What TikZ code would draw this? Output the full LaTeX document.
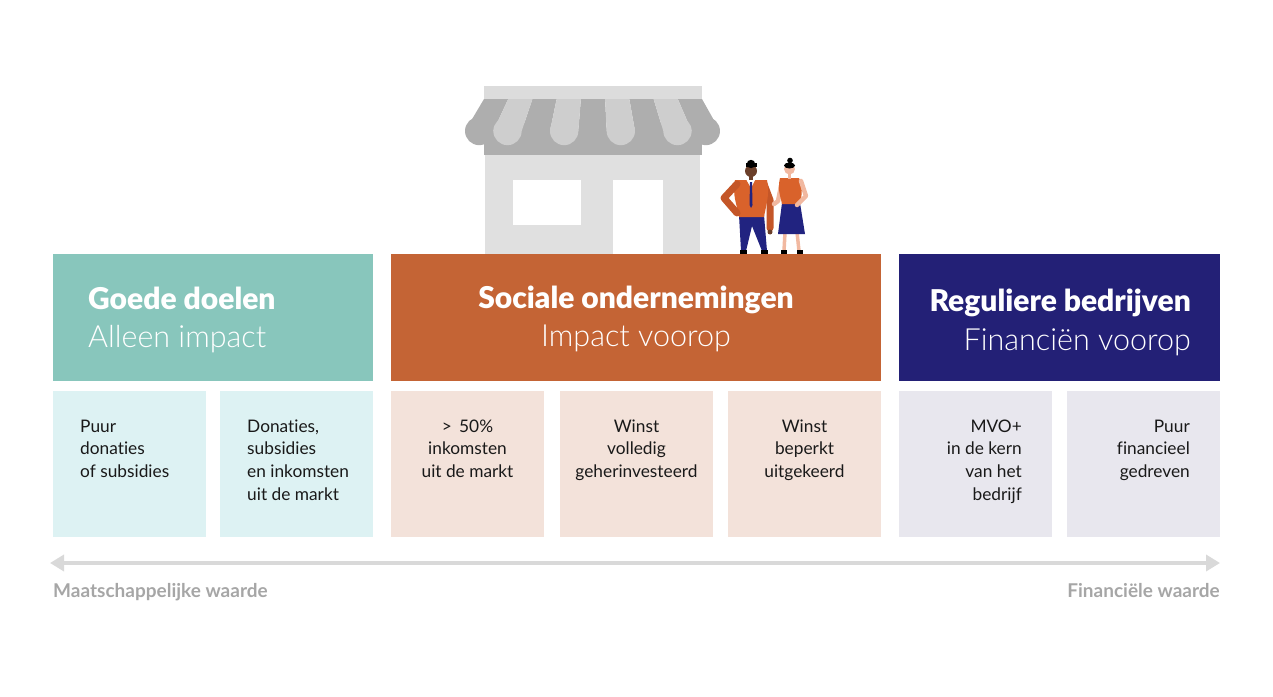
\documentclass[tikz,border=0pt]{standalone}
\usepackage{fontspec}
\setmainfont{Lato}[Ligatures={NoCommon}]
\newfontfamily\lightfont{Lato Light}[Ligatures={NoCommon}]
\newfontfamily\blackfont{Lato Black}[Ligatures={NoCommon}]
\usepackage{tikz}
\usetikzlibrary{arrows.meta}
\usetikzlibrary{positioning}
\definecolor{goedeteal}{RGB}{136, 198, 188}
\definecolor{goedelight}{RGB}{221, 242, 243}
\definecolor{socialorange}{RGB}{196, 100, 53}
\definecolor{sociallight}{RGB}{243, 226, 218}
\definecolor{regulnavy}{RGB}{35, 32, 118}
\definecolor{regullight}{RGB}{232, 231, 238}
\definecolor{arrowgray}{RGB}{217, 217, 217}
\definecolor{labelgray}{RGB}{166, 166, 166}
\definecolor{shoptop}{RGB}{220, 220, 220}
\definecolor{shopbody}{RGB}{224, 224, 224}
\definecolor{awningdark}{RGB}{174, 174, 174}
\definecolor{awninglight}{RGB}{206, 206, 206}
\definecolor{manorange}{RGB}{217, 98, 43}
\definecolor{manorangedark}{RGB}{196, 86, 40}
\definecolor{mannavy}{RGB}{33, 35, 128}
\definecolor{manskin}{RGB}{107, 63, 42}
\definecolor{womanskin}{RGB}{241, 184, 160}

\tikzset{
  headbox/.style={anchor=north west, minimum width=#1, minimum height=127pt, inner sep=0pt},
  smallbox/.style={anchor=north west, minimum width=153pt, minimum height=146pt, inner sep=0pt},
  titletext/.style={text=white, inner sep=0pt, font=\blackfont\fontsize{30}{32}\selectfont},
  subtext/.style={text=white, inner sep=0pt, font=\lightfont\fontsize{30.5}{32}\selectfont},
  boxtext/.style={text=black!90, inner sep=0pt, font=\fontsize{17.3}{22.7}\selectfont},
  valuelabel/.style={text=labelgray, inner sep=0pt, font=\bfseries\fontsize{19}{22}\selectfont},
  valuearrow/.style={draw=arrowgray, line width=4pt, {Triangle[length=14pt,width=16pt]}-{Triangle[length=14pt,width=16pt]}},
  manarm/.style={draw=manorangedark, line width=7pt, line cap=round, line join=round},
  womanarm/.style={draw=womanskin, line width=4.5pt, line cap=round, line join=round},
  womanleg/.style={draw=womanskin, line width=3.5pt},
}

\begin{document}
\begin{tikzpicture}[x=1pt, y=-1pt]
\useasboundingbox (0,0) rectangle (1273,696);

% shop
\fill[shoptop]  (484,86)  rectangle (702,100);
\fill[shopbody] (485,150) rectangle (700,254);
\fill[awningdark] (484,131) rectangle (702,155);
\foreach \i in {0,2,4,6,8} {
  \fill[awningdark] ({484+24.22*\i},99) -- ({484+24.22*(\i+1)},99) -- ({465+28.33*(\i+1)},131) -- ({465+28.33*\i},131) -- cycle;
  \fill[awningdark] ({465+28.33*(\i+0.5)},131) circle (14.17);
}
\foreach \i in {1,3,5,7} {
  \fill[awninglight] ({484+24.22*\i},99) -- ({484+24.22*(\i+1)},99) -- ({465+28.33*(\i+1)},131) -- ({465+28.33*\i},131) -- cycle;
  \fill[awninglight] ({465+28.33*(\i+0.5)},131) circle (14.17);
}
\fill[white] (513,180) rectangle (581,225);
\fill[white] (613,180) rectangle (663,254);

% man
\fill[mannavy] (739,215) -- (764,215) -- (767,251) -- (762,251) -- (752,226) -- (746,251) -- (741,251) -- cycle;
\fill[black] (740,250) rectangle (747,254);
\fill[black] (761,250) rectangle (768,254);
\draw[manarm] (764,184) -- (770,200) -- (770,228);
\fill[manskin] (770,232) circle (2.5);
\fill[manorange] (735,180) .. controls (732,195) and (737,205) .. (739,217) -- (764,217) .. controls (766,205) and (770,195) .. (767,180) -- cycle;
\draw[manarm] (737,184) -- (724,198) -- (737,213);
\fill[manskin] (749,175) rectangle (753,181);
\fill[white] (746.5,180) -- (755,180) -- (751,188) -- cycle;
\fill[mannavy] (750,182) -- (752,182) -- (752.5,205) -- (751,208) -- (749.5,205) -- cycle;
\fill[manskin] (751,171) circle (6);
\fill[black] (751,164) circle (4.2);
\fill[black] (745.5,163) rectangle (756.5,167);

% woman
\draw[womanleg] (785,232) -- (784,251);
\draw[womanleg] (797,232) -- (799,251);
\fill[black] (781,250) rectangle (787,254);
\fill[black] (797,250) rectangle (803,254);
\draw[womanarm] (781,186) -- (778,201) -- (774,204);
\fill[mannavy] (782,203) -- (800,203) -- (805,234) -- (778,234) -- cycle;
\fill[manorange] (780,178) .. controls (777,190) and (781,198) .. (782,204) -- (800,204) .. controls (802,195) and (803,186) .. (799,178) -- cycle;
\draw[womanarm] (801,181) -- (806,196) -- (797,205);
\fill[womanskin] (788,173) rectangle (791,179);
\fill[womanskin] (789.5,169) circle (5.5);
\fill[black] (789.5,165.5) ellipse (5.5 and 3);
\fill[black] (790,160.5) circle (2.8);

% headers
\node[headbox=320pt, fill=goedeteal]    (goede)   at (53,254)  {};
\node[headbox=490pt, fill=socialorange] (sociaal) at (391,254) {};
\node[headbox=321pt, fill=regulnavy]    (regulier) at (899,254) {};

\node[titletext, anchor=base west] (goedetitle)    at (88,309)   {Goede doelen};
\node[subtext,   anchor=base west] (goedesub)      at (88,347)   {Alleen impact};
\node[titletext, anchor=base]      (sociaaltitle)  at (636,308)  {Sociale ondernemingen};
\node[subtext,   anchor=base]      (sociaalsub)    at (636,346)  {Impact voorop};
\node[titletext, anchor=base east] (reguliertitle) at (1191,311) {Reguliere bedrijven};
\node[subtext,   anchor=base east] (reguliersub)   at (1191,350) {Financiën voorop};

% small boxes
\node[smallbox, fill=goedelight]  (puur)     at (53,391)   {};
\node[smallbox, fill=goedelight]  (donaties) at (220,391)  {};
\node[smallbox, fill=sociallight] (markt)    at (391,391)  {};
\node[smallbox, fill=sociallight] (volledig) at (560,391)  {};
\node[smallbox, fill=sociallight] (beperkt)  at (728,391)  {};
\node[smallbox, fill=regullight]  (mvo)      at (899,391)  {};
\node[smallbox, fill=regullight]  (financ)   at (1067,391) {};

% base anchor sits on the last line
\node[boxtext, anchor=base west, align=left]  (puurtext)     at (80,477.4)   {Puur\\donaties\\of subsidies};
\node[boxtext, anchor=base west, align=left]  (donatiestext) at (247,500.1)  {Donaties,\\subsidies\\en inkomsten\\uit de markt};
\node[boxtext, anchor=base, align=center]     (markttext)    at (467.5,477.4) {>\, 50\%\\inkomsten\\uit de markt};
\node[boxtext, anchor=base, align=center]     (volledigtext) at (636.5,477.4) {Winst\\volledig\\geherinvesteerd};
\node[boxtext, anchor=base, align=center]     (beperkttext)  at (804.5,477.4) {Winst\\beperkt\\uitgekeerd};
\node[boxtext, anchor=base east, align=right] (mvotext)      at (1022,500.1)  {MVO+\\in de kern\\van het\\bedrijf};
\node[boxtext, anchor=base east, align=right] (financtext)   at (1190,477.4)  {Puur\\financieel\\gedreven};

% value axis
\coordinate (maatschappelijkend) at (50,563);
\coordinate (financieelend) at (1220,563);
\draw[valuearrow] (maatschappelijkend) -- (financieelend);
\node[valuelabel, anchor=base west] (maatschappelijk) at (53,597)   {Maatschappelijke waarde};
\node[valuelabel, anchor=base east] (financieel)      at (1220,597) {Financiële waarde};
\end{tikzpicture}
\end{document}
